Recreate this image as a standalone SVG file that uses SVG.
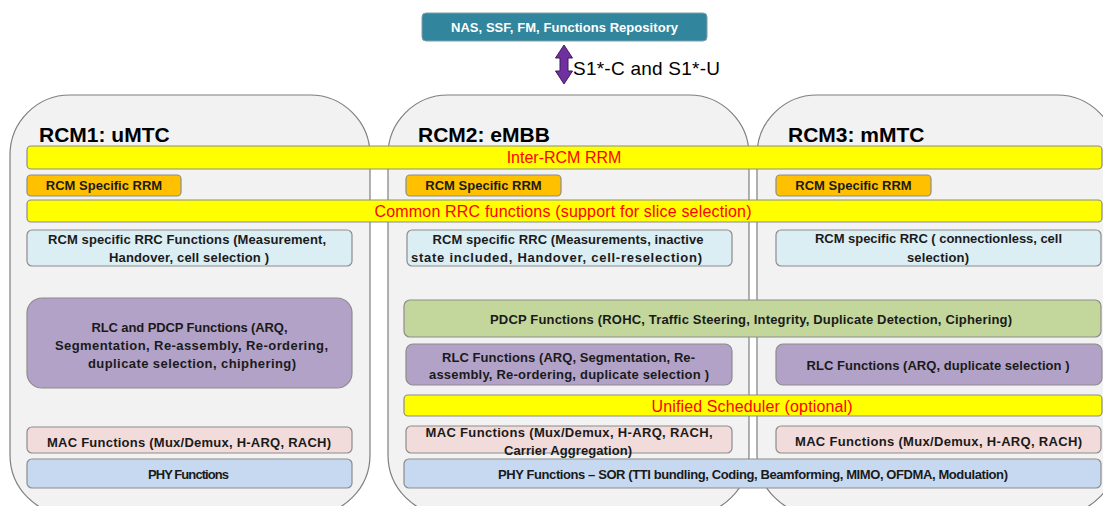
<svg xmlns="http://www.w3.org/2000/svg" width="1103" height="506" viewBox="0 0 1103 506">
<style>
.cont{fill:#F2F2F2;stroke:#7F7F7F;stroke-width:1.2}
.box{stroke:#8C8C8C;stroke-width:1.2}
.title{font-family:"Liberation Sans",Arial,sans-serif;font-weight:bold;font-size:21px;fill:#000}
.t{font-family:"Liberation Sans",Arial,sans-serif;font-weight:bold;font-size:13px;fill:#1a1a1a;text-anchor:middle}
.red{font-family:"Liberation Sans",Arial,sans-serif;font-size:16px;fill:#FF0000;text-anchor:middle}
.yel{fill:#FFFF00}
.org{fill:#FFC000}
.lblue{fill:#DBEEF4}
.purp{fill:#B2A2C7}
.pink{fill:#F2DCDB}
.phy{fill:#C6D9F1}
.green{fill:#C3D69B}
</style>
<rect width="1103" height="506" fill="#FFFFFF"/>
<g id="rcm1">
<rect class="cont" x="10" y="95" width="360" height="420" rx="60" ry="60"/>
<text class="title" x="39" y="142">RCM1: uMTC</text>
</g>
<g id="rcm2">
<rect class="cont" x="388" y="95" width="361" height="420" rx="60" ry="60"/>
<text class="title" x="418" y="142">RCM2: eMBB</text>
</g>
<g id="rcm3">
<rect class="cont" x="757" y="95" width="360" height="420" rx="60" ry="60"/>
<text class="title" x="788" y="142">RCM3: mMTC</text>
</g>
<g id="nas">
<rect x="422" y="13" width="285" height="28" rx="4" fill="#31859C" stroke="#7F9FA8" stroke-width="1"/>
<text x="564.5" y="32" text-anchor="middle" font-family="'Liberation Sans',Arial,sans-serif" font-weight="bold" font-size="13" fill="#FFFFFF" textLength="227" lengthAdjust="spacing">NAS, SSF, FM, Functions Repository</text>
</g>
<g id="connectors">
<path d="M564,45 L572.5,58 L568,58 L568,71 L572.5,71 L564,84 L555.5,71 L560,71 L560,58 L555.5,58 Z" fill="#7030A0" stroke="#3F1A5C" stroke-width="1"/>
<text x="573" y="75" font-family="'Liberation Sans',Arial,sans-serif" font-size="19" fill="#000" textLength="147" lengthAdjust="spacing">S1*-C and S1*-U</text>
</g>
<g id="inter-rcm-rrm">
<rect class="box yel" x="27" y="146" width="1075" height="23" rx="4"/>
<text class="red" x="564" y="163">Inter-RCM RRM</text>
</g>
<g id="rrm1">
<rect class="box org" x="27" y="175" width="154" height="21" rx="4"/>
<text class="t" x="104" y="190">RCM Specific RRM</text>
</g>
<g id="rrm2">
<rect class="box org" x="406" y="175" width="155" height="21" rx="4"/>
<text class="t" x="483.5" y="190">RCM Specific RRM</text>
</g>
<g id="rrm3">
<rect class="box org" x="776" y="175" width="155" height="21" rx="4"/>
<text class="t" x="853.5" y="190">RCM Specific RRM</text>
</g>
<g id="common-rrc">
<rect class="box yel" x="27" y="200" width="1075" height="22" rx="4"/>
<text class="red" x="563" y="217" textLength="377" lengthAdjust="spacing">Common RRC functions (support for slice selection)</text>
</g>
<g id="rrc1">
<rect class="box lblue" x="27" y="230" width="325" height="36" rx="5"/>
<text class="t" x="187" y="244" textLength="278" lengthAdjust="spacing">RCM specific RRC Functions (Measurement,</text>
<text class="t" x="189" y="262" textLength="160" lengthAdjust="spacing">Handover, cell selection )</text>
</g>
<g id="rrc2">
<rect class="box lblue" x="407" y="230" width="325" height="36" rx="5"/>
<text class="t" x="568" y="244" textLength="271" lengthAdjust="spacing">RCM specific RRC (Measurements, inactive</text>
<text class="t" x="556.5" y="262" textLength="291" lengthAdjust="spacing">state included, Handover, cell-reselection)</text>
</g>
<g id="rrc3">
<rect class="box lblue" x="776" y="230" width="325" height="36" rx="5"/>
<text class="t" x="938.5" y="243" textLength="247" lengthAdjust="spacing">RCM specific RRC ( connectionless, cell</text>
<text class="t" x="938" y="262" textLength="62" lengthAdjust="spacing">selection)</text>
</g>
<g id="rlc-pdcp1">
<rect class="box purp" x="27" y="298" width="325" height="90" rx="15"/>
<text class="t" x="189.5" y="332" textLength="196" lengthAdjust="spacing">RLC and PDCP Functions (ARQ,</text>
<text class="t" x="191.5" y="350" textLength="273" lengthAdjust="spacing">Segmentation, Re-assembly, Re-ordering,</text>
<text class="t" x="192" y="368" textLength="208" lengthAdjust="spacing">duplicate selection, chiphering)</text>
</g>
<g id="pdcp2">
<rect class="box green" x="404" y="300" width="697" height="37" rx="6"/>
<text class="t" x="751" y="324" textLength="522" lengthAdjust="spacing">PDCP Functions (ROHC, Traffic Steering, Integrity, Duplicate Detection, Ciphering)</text>
</g>
<g id="rlc2">
<rect class="box purp" x="406" y="344" width="326" height="41" rx="7"/>
<text class="t" x="568.5" y="362" textLength="253" lengthAdjust="spacing">RLC Functions (ARQ, Segmentation, Re-</text>
<text class="t" x="569" y="379" textLength="280" lengthAdjust="spacing">assembly, Re-ordering, duplicate selection )</text>
</g>
<g id="rlc3">
<rect class="box purp" x="776" y="344" width="326" height="41" rx="7"/>
<text class="t" x="938" y="370" textLength="263" lengthAdjust="spacing">RLC Functions (ARQ, duplicate selection )</text>
</g>
<g id="unified-scheduler">
<rect class="box yel" x="404" y="395" width="698" height="21" rx="4"/>
<text class="red" x="752" y="412" textLength="201" lengthAdjust="spacing">Unified Scheduler (optional)</text>
</g>
<g id="mac1">
<rect class="box pink" x="27" y="427" width="325" height="26" rx="5"/>
<text class="t" x="189" y="447" textLength="284" lengthAdjust="spacing">MAC Functions (Mux/Demux, H-ARQ, RACH)</text>
</g>
<g id="mac2">
<rect class="box pink" x="406" y="426" width="326" height="27" rx="5"/>
<text class="t" x="569" y="437" textLength="287" lengthAdjust="spacing">MAC Functions  (Mux/Demux, H-ARQ, RACH,</text>
<text class="t" x="568" y="455" textLength="128" lengthAdjust="spacing">Carrier Aggregation)</text>
</g>
<g id="mac3">
<rect class="box pink" x="776" y="426" width="325" height="27" rx="5"/>
<text class="t" x="938.5" y="446" textLength="287" lengthAdjust="spacing">MAC Functions  (Mux/Demux, H-ARQ, RACH)</text>
</g>
<g id="phy1">
<rect class="box phy" x="27" y="459" width="325" height="29" rx="5"/>
<text class="t" x="188.5" y="479" textLength="81" lengthAdjust="spacing">PHY Functions</text>
</g>
<g id="phy2">
<rect class="box phy" x="404" y="459" width="697" height="29" rx="5"/>
<text class="t" x="753" y="479" textLength="510" lengthAdjust="spacing">PHY Functions – SOR (TTI bundling, Coding, Beamforming, MIMO, OFDMA, Modulation)</text>
</g>
</svg>
